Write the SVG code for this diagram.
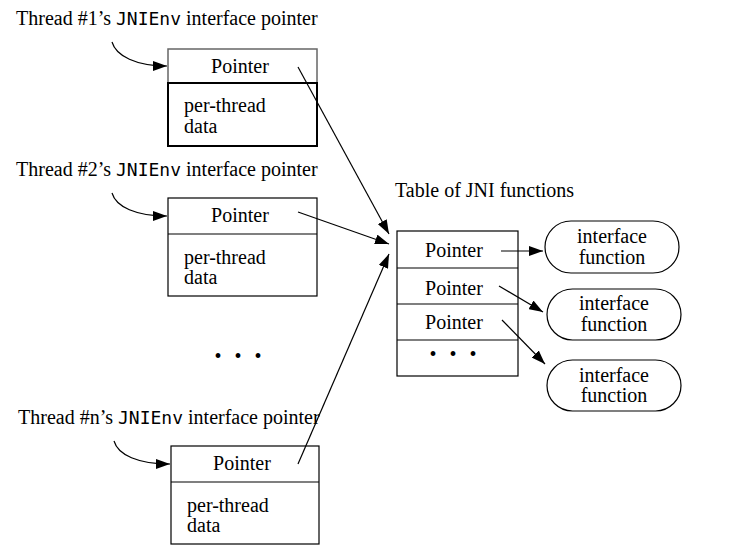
<svg xmlns="http://www.w3.org/2000/svg" width="729" height="558" viewBox="0 0 729 558">
<defs>
<marker id="ah" viewBox="0 0 14 10" refX="14" refY="5" markerWidth="14" markerHeight="10" markerUnits="userSpaceOnUse" orient="auto">
<path d="M0,0 L14,5 L0,10 Z" fill="#000"/>
</marker>
</defs>
<style>
.t{font-family:'Liberation Serif','DejaVu Serif',serif;font-size:20px;fill:#000}
.m{font-family:'DejaVu Sans Mono','Liberation Mono',monospace;font-size:18px}
.c{text-anchor:middle}
.box{fill:#fff;stroke:#000;stroke-width:1.2}
.ln{fill:none;stroke:#000;stroke-width:1.2;marker-end:url(#ah)}
</style>
<rect width="729" height="558" fill="#fff"/>
<g font-family="'Liberation Serif','DejaVu Serif',serif" font-size="20">
<g id="label1"><text class="t" x="16" y="25">Thread #1’s <tspan class="m">JNIEnv</tspan> interface pointer</text></g>
<g id="label2"><text class="t" x="16" y="176">Thread #2’s <tspan class="m">JNIEnv</tspan> interface pointer</text></g>
<g id="labeln"><text class="t" x="18" y="424">Thread #n’s <tspan class="m">JNIEnv</tspan> interface pointer</text></g>
<g id="thread1">
<rect x="168" y="49" width="149" height="34" fill="#fff" stroke="#666" stroke-width="1.5"/>
<path d="M168,83 H317 V146 H168 Z" fill="#fff" stroke="#000" stroke-width="2"/>
<text x="240" y="73" class="t c">Pointer</text>
<text x="184" y="112" class="t">per-thread</text>
<text x="184" y="133" class="t">data</text>
</g>
<g id="thread2">
<rect x="168" y="198" width="149" height="98" class="box"/>
<line x1="168" y1="234" x2="317" y2="234" stroke="#000" stroke-width="1.2"/>
<text x="240" y="222" class="t c">Pointer</text>
<text x="184" y="264" class="t">per-thread</text>
<text x="184" y="284" class="t">data</text>
</g>
<g id="dots-left"><text x="240" y="363" class="t c" style="font-size:20px;letter-spacing:4px">• • •</text></g>
<g id="threadn">
<rect x="171" y="446" width="148" height="98" class="box"/>
<line x1="171" y1="482" x2="319" y2="482" stroke="#000" stroke-width="1.2"/>
<text x="242" y="470" class="t c">Pointer</text>
<text x="187" y="512" class="t">per-thread</text>
<text x="187" y="532" class="t">data</text>
</g>
<g id="table">
<text x="395" y="197" class="t">Table of JNI functions</text>
<rect x="397" y="231" width="121" height="145" class="box"/>
<line x1="397" y1="268" x2="518" y2="268" stroke="#000" stroke-width="1.2"/>
<line x1="397" y1="304" x2="518" y2="304" stroke="#000" stroke-width="1.2"/>
<line x1="397" y1="340" x2="518" y2="340" stroke="#000" stroke-width="1.2"/>
<text x="454" y="257" class="t c">Pointer</text>
<text x="454" y="295" class="t c">Pointer</text>
<text x="454" y="329" class="t c">Pointer</text>
<text x="455" y="361" class="t c" style="font-size:20px;letter-spacing:4px">• • •</text>
</g>
<g id="func1">
<rect x="545" y="221" width="134" height="52" rx="26" class="box"/>
<text x="612" y="243" class="t c">interface</text>
<text x="612" y="264" class="t c">function</text>
</g>
<g id="func2">
<rect x="547" y="289" width="134" height="51" rx="25.5" class="box"/>
<text x="614" y="310" class="t c">interface</text>
<text x="614" y="331" class="t c">function</text>
</g>
<g id="func3">
<rect x="547" y="360" width="134" height="51" rx="25.5" class="box"/>
<text x="614" y="382" class="t c">interface</text>
<text x="614" y="402" class="t c">function</text>
</g>
</g>
<g id="connectors">
<path class="ln" d="M112,42 C116,56 136,66 167,66"/>
<path class="ln" d="M112,193 C116,207 136,216 167,216"/>
<path class="ln" d="M114,441 C118,455 138,464 170,464"/>
<path class="ln" d="M298,67 L389,234"/>
<path class="ln" d="M298,212 L389,244"/>
<path class="ln" d="M298,464 L389,254"/>
<path class="ln" d="M501,251 L543,251"/>
<path class="ln" d="M499,286 L543,312"/>
<path class="ln" d="M502,320 L545,364"/>
</g>
</svg>
